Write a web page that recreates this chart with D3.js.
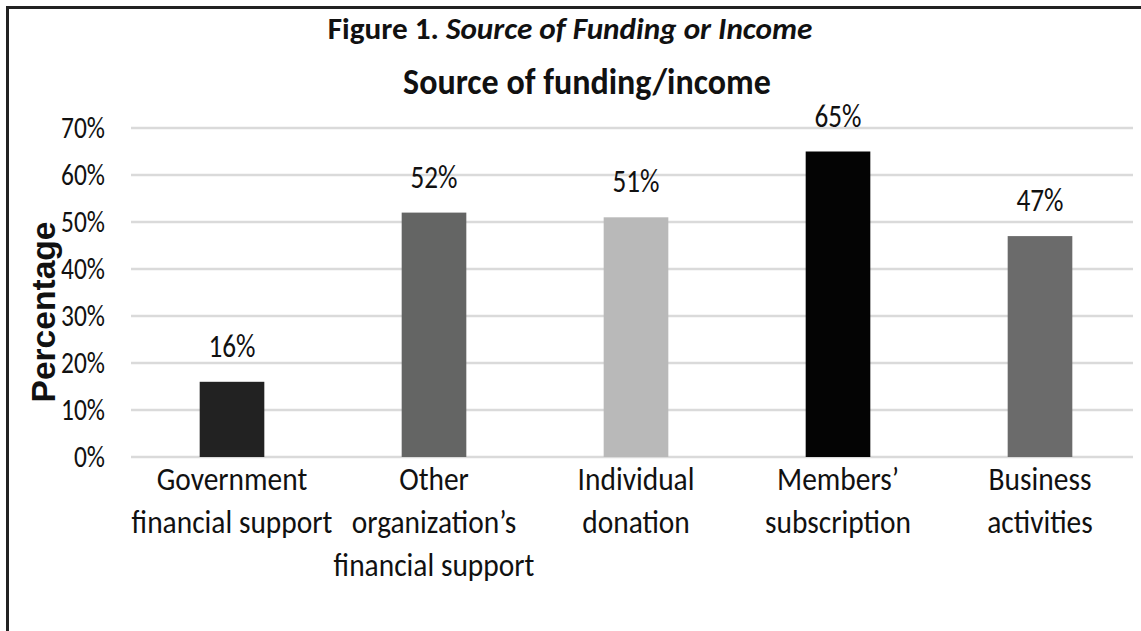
<!DOCTYPE html>
<meta charset="utf-8">
<head>
<script src="https://d3js.org/d3.v7.min.js"></script>
<style>
body { margin: 0; background: #fff; }
svg text { font-family: Carlito, Lato, "Liberation Sans", sans-serif; fill: #111; }
</style>
</head>
<body>
<svg id="chart"></svg>
<script>
var categories = [
    ["Government", "financial support"],
    ["Other", "organization\u2019s", "financial support"],
    ["Individual", "donation"],
    ["Members\u2019", "subscription"],
    ["Business", "activities"]
];
var values = [16, 52, 51, 65, 47];
var barColors = ["#222222", "#646564", "#b9b9b9", "#040404", "#6b6b6b"];
var yTicks = [0, 10, 20, 30, 40, 50, 60, 70];

var width = 1141, height = 631;
var svg = d3.select("#chart").attr("width", width).attr("height", height);

// frame
svg.append("line").attr("x1", 6).attr("x2", width).attr("y1", 7.5).attr("y2", 7.5)
   .attr("stroke", "#222").attr("stroke-width", 3);
svg.append("line").attr("x1", 7.5).attr("x2", 7.5).attr("y1", 6).attr("y2", height)
   .attr("stroke", "#222").attr("stroke-width", 3);

// titles
var t = svg.append("g").attr("transform", "translate(570,39)")
   .append("text").attr("text-anchor", "middle").attr("transform", "scale(1.04,1)")
   .style("font-size", "30px").style("font-weight", "bold");
t.append("tspan").text("Figure 1. ");
t.append("tspan").style("font-style", "italic").text("Source of Funding or Income");

svg.append("g").attr("transform", "translate(587,94)")
   .append("text").attr("text-anchor", "middle").attr("transform", "scale(0.92,1)")
   .style("font-size", "37px").style("font-weight", 600).text("Source of funding/income");

var x = d3.scaleBand().domain(d3.range(values.length)).range([131, 1141]).paddingInner(0.68).paddingOuter(0.34);
var y = d3.scaleLinear().domain([0, 70]).range([457, 128]);

// gridlines
svg.append("g").selectAll("line").data(yTicks).enter().append("line")
   .attr("x1", 131).attr("x2", 1133)
   .attr("y1", function(d) { return y(d); }).attr("y2", function(d) { return y(d); })
   .attr("stroke", "#dadada").attr("stroke-width", 2.5);

// y axis labels
var yAxis = d3.axisLeft(y).tickValues(yTicks).tickSize(0).tickPadding(0)
   .tickFormat(function(d) { return d + "%"; });
svg.append("g").attr("transform", "translate(105,0)").call(yAxis)
   .call(function(g) { g.select(".domain").remove(); })
   .selectAll("text").attr("transform", "scale(0.82,1)")
   .style("font-size", "31px").style("fill", "#111")
   .style("font-family", "Carlito, Lato, sans-serif");

svg.append("text").attr("transform", "translate(55,312) rotate(-90)")
   .attr("text-anchor", "middle")
   .attr("textLength", 181).attr("lengthAdjust", "spacingAndGlyphs")
   .style("font-family", "'Liberation Sans', sans-serif")
   .style("font-size", "34px").style("font-weight", "bold").text("Percentage");

// bars
svg.append("g").selectAll("rect").data(values).enter().append("rect")
   .attr("x", function(d, i) { return x(i); })
   .attr("width", x.bandwidth())
   .attr("y", function(d) { return y(d); })
   .attr("height", function(d) { return y(0) - y(d); })
   .attr("fill", function(d, i) { return barColors[i]; });

// value labels
svg.append("g").selectAll("g").data(values).enter().append("g")
   .attr("transform", function(d, i) {
       return "translate(" + (x(i) + x.bandwidth() / 2) + "," + (y(d) - 25) + ")";
   })
   .append("text").attr("text-anchor", "middle").attr("transform", "scale(0.85,1)")
   .style("font-size", "32px").text(function(d) { return d + "%"; });

// category labels
var cat = svg.append("g").selectAll("g").data(categories).enter().append("g")
   .attr("transform", function(d, i) {
       return "translate(" + (x(i) + x.bandwidth() / 2) + ",0)";
   })
   .append("text").attr("text-anchor", "middle").attr("transform", "scale(0.92,1)")
   .style("font-size", "32px");
cat.each(function(lines) {
    var el = d3.select(this);
    lines.forEach(function(l, j) {
        el.append("tspan").attr("x", 0).attr("y", 490 + j * 43).text(l);
    });
});
</script>
</body>
